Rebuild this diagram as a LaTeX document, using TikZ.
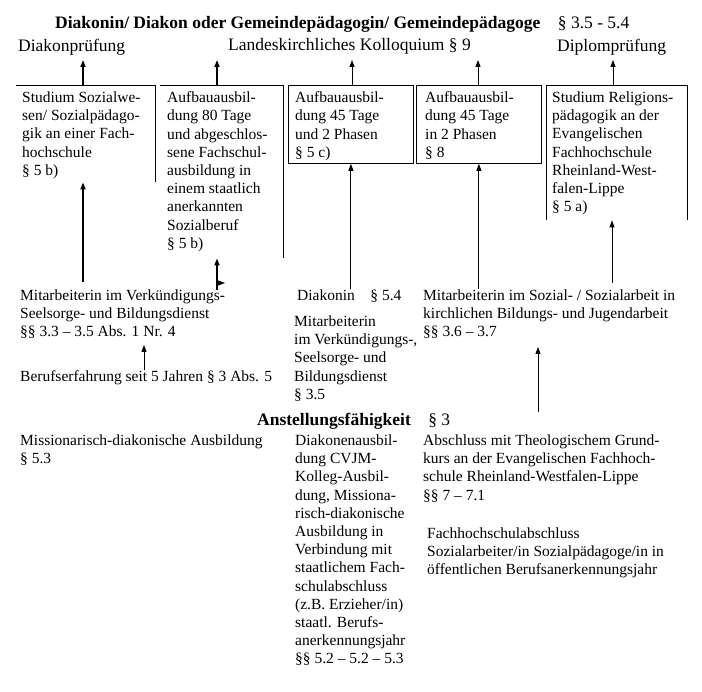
\documentclass[tikz,border=0pt]{standalone}
\usepackage{fontspec}
\setmainfont{Liberation Serif}
\usetikzlibrary{arrows.meta, positioning}
\newcommand\dkfont{\fontsize{15.5}{18.2}\selectfont}
\newcommand\dkheadfont{\fontsize{17.5}{20}\selectfont}
\tikzset{
  txt/.style={anchor=north west, inner sep=0pt, align=left, font=\dkfont},
  head/.style={txt, font=\dkheadfont},
  frame/.style={anchor=north west, inner sep=0pt, minimum height=78pt},
  kbox/.style={frame, draw, line width=0.8pt, minimum width=125pt},
  edge/.style={line width=0.8pt},
  arrow/.style={-{Triangle[length=7pt,width=5pt]}, line width=0.9pt},
  thickarrow/.style={arrow, line width=1.6pt},
}

\begin{document}
\begin{tikzpicture}[x=1pt, y=-1pt]
  \useasboundingbox (0,0) rectangle (702,692);

  %% -- Headline --
  \node[head] (title) at (55,16)
    {\textbf{Diakonin/ Diakon oder Gemeindepädagogin/ Gemeindepädagoge}\quad § 3.5 - 5.4};
  \node[head] (dpr)  at (18,38.5)  {Diakonprüfung};
  \node[head] (koll) at (228,38.5) {Landeskirchliches Kolloquium § 9};
  \node[head] (dipl) at (557,38.5) {Diplomprüfung};

  %% -- Row 1: Ausbildungswege --
  \node[frame, minimum width=139pt, minimum height=97pt]  (st)    at (16,85)  {};
  \node[frame, minimum width=123pt, minimum height=173pt] (aub80) at (160,85) {};
  \node[kbox] (aubA) at (288,85) {};
  \node[kbox] (aubB) at (416,85) {};
  \node[frame, minimum width=141pt, minimum height=135pt] (rp)    at (546,85) {};

  \draw[edge] (st.north west) -- (st.north east) -- (st.south east);
  \draw[edge] (aub80.north west) -- (aub80.north east) -- (aub80.south east);
  \draw[edge] (rp.south west) -- (rp.north west) -- (rp.north east);
  \draw[line width=1.8pt] (rp.north east) -- (rp.south east);

  \node[txt, below right=6.5pt and 6pt of st.north west] (sttxt)
    {Studium Sozialwe-\\sen/ Sozialpädago-\\gik an einer Fach-\\hochschule\\§ 5 b)};
  \node[txt, below right=6.5pt and 7pt of aub80.north west] (aub80txt)
    {Aufbauausbil-\\dung 80 Tage\\und abgeschlos-\\sene Fachschul-\\ausbildung in\\einem staatlich\\anerkannten\\Sozialberuf\\§ 5 b)};
  \node[txt, below right=6.5pt and 7pt of aubA.north west] (aubAtxt)
    {Aufbauausbil-\\dung 45 Tage\\und 2 Phasen\\§ 5 c)};
  \node[txt, below right=6.5pt and 9pt of aubB.north west] (aubBtxt)
    {Aufbauausbil-\\dung 45 Tage\\in 2 Phasen\\§ 8};
  \node[txt, below right=6.5pt and 6pt of rp.north west] (rptxt)
    {Studium Religions-\\pädagogik an der\\Evangelischen\\Fachhochschule\\Rheinland-West-\\falen-Lippe\\§ 5 a)};

  %% -- Row 2: Mitarbeitende --
  \node[txt] (mvsb)  at (20,289.5)
    {Mitarbeiterin im Verkündigungs-\\Seelsorge- und Bildungsdienst\\§§ 3.3 – 3.5 Abs. 1 Nr. 4};
  \node[txt] (beruf) at (20,370.5) {Berufserfahrung seit 5 Jahren § 3 Abs. 5};
  \node[txt] (dk)    at (297,289.5) {Diakonin\quad § 5.4};
  \node[txt] (mvs)   at (294,315.5)
    {Mitarbeiterin\\im Verkündigungs-,\\Seelsorge- und\\Bildungsdienst\\§ 3.5};
  \node[txt] (msoz)  at (423,289.5)
    {Mitarbeiterin im Sozial- / Sozialarbeit in\\kirchlichen Bildungs- und Jugendarbeit\\§§ 3.6 – 3.7};

  %% -- Row 3: Anstellungsfähigkeit --
  \node[head] (anst) at (257,413) {\textbf{Anstellungsfähigkeit}\quad § 3};
  \node[txt] (miss) at (20,434.5) {Missionarisch-diakonische Ausbildung\\§ 5.3};
  \node[txt] (diak) at (295,434.5)
    {Diakonenausbil-\\dung CVJM-\\Kolleg-Ausbil-\\dung, Missiona-\\risch-diakonische\\Ausbildung in\\Verbindung mit\\staatlichem Fach-\\schulabschluss\\(z.B. Erzieher/in)\\staatl. Berufs-\\anerkennungsjahr\\§§ 5.2 – 5.2 – 5.3};
  \node[txt] (fhs)  at (423,434.5)
    {Abschluss mit Theologischem Grund-\\kurs an der Evangelischen Fachhoch-\\schule Rheinland-Westfalen-Lippe\\§§ 7 – 7.1};
  \node[txt] (fha)  at (427,527.5)
    {Fachhochschulabschluss\\Sozialarbeiter/in Sozialpädagoge/in in\\öffentlichen Berufsanerkennungsjahr};

  %% -- Arrows up to the exams --
  \coordinate (c1) at (83,60);
  \coordinate (c2) at (217,60);
  \coordinate (c3) at (352,60);
  \coordinate (c4) at (478,60);
  \coordinate (c5) at (613,60);
  \draw[thickarrow] (c1 |- st.north)    -- (c1);
  \draw[thickarrow] (c2 |- aub80.north) -- (c2);
  \draw[arrow]      (c3 |- aubA.north)  -- (c3);
  \draw[arrow]      (c4 |- aubB.north)  -- (c4);
  \draw[arrow]      (c5 |- rp.north)    -- (c5);

  %% -- Arrows up to the Ausbildung --
  \coordinate (m1) at (83,282);
  \coordinate (m2) at (217,290);
  \coordinate (m5) at (612,283);
  \coordinate (hk) at (225,283);
  \coordinate (a6) at (538,412);
  \coordinate (t6) at (538,347);
  \draw[thickarrow] (m1) -- (m1 |- st.south);
  \draw[thickarrow] (m2) -- (m2 |- aub80.south);
  \draw[arrow, line width=0.6pt] (m2 |- hk) -- (hk);
  \draw[arrow] (dk.north -| aubA.south) -- (aubA.south);
  \draw[arrow] (msoz.north -| aubB.south) -- (aubB.south);
  \draw[arrow] (m5) -- (m5 |- rp.south);
  \draw[arrow] (beruf.north -| 144,0) -- (144,345);
  \draw[arrow] (a6) -- (t6);

\end{tikzpicture}
\end{document}
